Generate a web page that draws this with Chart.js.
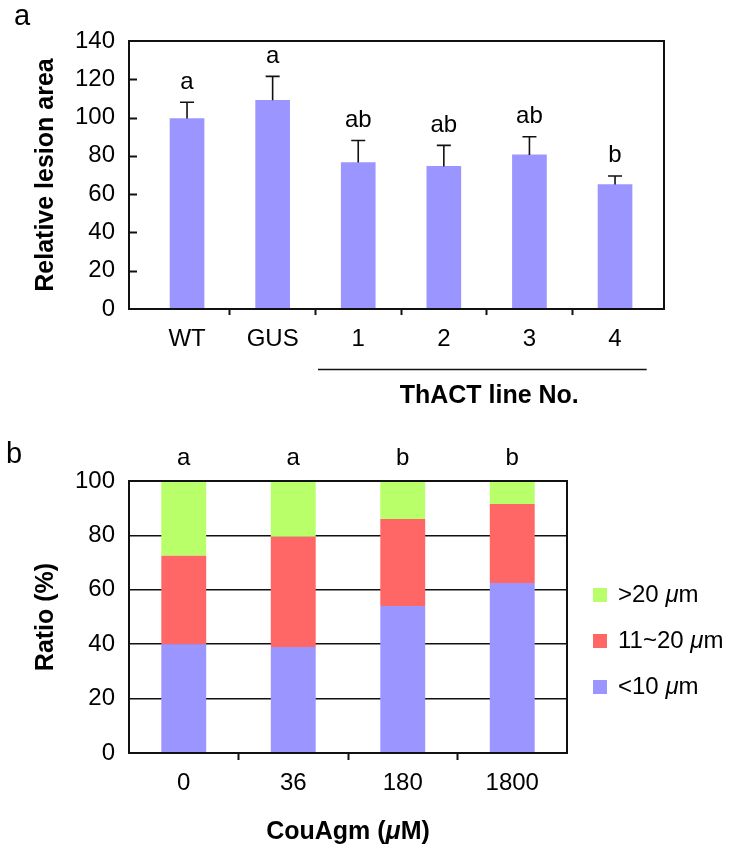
<!DOCTYPE html>
<html><head><meta charset="utf-8">
<script src="https://cdn.jsdelivr.net/npm/chart.js@4"></script>
<style>
html,body{margin:0;padding:0;background:#fff;}
#wrap{position:relative;width:736px;height:851px;overflow:hidden;background:#fff}
canvas{position:absolute;left:0}
#ca{top:0}
#cb{top:430px}
</style></head><body>
<div id="wrap"><canvas id="ca" width="736" height="430"></canvas><canvas id="cb" width="736" height="421"></canvas></div>
<script>
const FONT = '"Liberation Sans", Arial, Helvetica, sans-serif';
const INK = '#111';

// ---- Panel a data ----
const linesA = ['WT', 'GUS', '1', '2', '3', '4'];
const lesionArea = [99.5, 109, 76.5, 74.5, 80.5, 65];
const lesionErr = [8.5, 12.5, 11.5, 11, 9.5, 4.5];
const lettersA = ['a', 'a', 'ab', 'ab', 'ab', 'b'];
const groupLabelA = 'ThACT line No.';
const yTitleA = 'Relative lesion area';

// ---- Panel b data ----
const doses = ['0', '36', '180', '1800'];
const smallPct = [40, 39, 54, 62.5];
const midPct = [32.5, 40.5, 32, 29];
const largePct = [27.5, 20.5, 14, 8.5];
const lettersB = ['a', 'a', 'b', 'b'];
const seriesLabels = ['<10 μm', '11~20 μm', '>20 μm'];
const yTitleB = 'Ratio (%)';
const xTitleB = 'CouAgm (μM)';

const C_BLUE = '#9b95ff', C_RED = '#ff6666', C_GREEN = '#b8ff6a';

Chart.defaults.font.family = FONT;
Chart.defaults.color = '#000';

function drawMixed(ctx, text, x, y, size, bold, align) {
  // draws text where 'μ' is italic
  const parts = text.split(/(μ)/).filter(s => s.length);
  const w = bold ? 'bold ' : '';
  let total = 0;
  const widths = parts.map(p => {
    ctx.font = (p === 'μ' ? 'italic ' : '') + w + size + 'px ' + FONT;
    const m = ctx.measureText(p).width; total += m; return m;
  });
  let cx = align === 'center' ? x - total / 2 : x;
  ctx.textAlign = 'left';
  parts.forEach((p, i) => {
    ctx.font = (p === 'μ' ? 'italic ' : '') + w + size + 'px ' + FONT;
    ctx.fillText(p, cx, y);
    cx += widths[i];
  });
}

const xTicksA = [];
linesA.forEach((_, i) => { xTicksA.push({ value: i }); if (i < linesA.length - 1) xTicksA.push({ value: i + 0.5 }); });

const plugA = {
  id: 'plugA',
  afterDatasetsDraw(chart) {
    const { ctx, chartArea: a, scales: { x, y } } = chart;
    ctx.save();
    ctx.strokeStyle = INK; ctx.fillStyle = '#000';
    // error bars + letters
    ctx.lineWidth = 1.6;
    lesionArea.forEach((v, i) => {
      const px = x.getPixelForValue(i);
      const y0 = y.getPixelForValue(v);
      const y1 = y.getPixelForValue(v + lesionErr[i]);
      ctx.beginPath();
      ctx.moveTo(px, y0); ctx.lineTo(px, y1);
      ctx.moveTo(px - 7, y1); ctx.lineTo(px + 7, y1);
      ctx.stroke();
      ctx.font = '24px ' + FONT; ctx.textAlign = 'center'; ctx.textBaseline = 'alphabetic';
      ctx.fillText(lettersA[i], px, y1 - 13.5);
    });
    // frame
    ctx.lineWidth = 2;
    ctx.strokeRect(a.left, a.top, a.right - a.left, a.bottom - a.top);
    // inward y ticks
    y.ticks.forEach(t => {
      if (t.value <= 0 || t.value >= 140) return;
      const py = Math.round(y.getPixelForValue(t.value)) + 0.5;
      ctx.beginPath(); ctx.moveTo(a.left, py); ctx.lineTo(a.left + 8, py); ctx.stroke();
    });
    // group line and label
    const gx0 = x.getPixelForValue(1.53), gx1 = x.getPixelForValue(5.37);
    ctx.lineWidth = 1.5;
    ctx.beginPath(); ctx.moveTo(gx0, 369.5); ctx.lineTo(gx1, 369.5); ctx.stroke();
    ctx.font = 'bold 25px ' + FONT; ctx.textAlign = 'center'; ctx.textBaseline = 'alphabetic';
    ctx.fillText(groupLabelA, x.getPixelForValue(3.53), 403);
    // panel letter
    ctx.font = '29px ' + FONT; ctx.textAlign = 'left';
    ctx.fillText('a', 14, 25);
    ctx.restore();
  }
};

new Chart(document.getElementById('ca'), {
  type: 'bar',
  data: {
    datasets: [{
      data: lesionArea.map((v, i) => ({ x: i, y: v })),
      backgroundColor: C_BLUE, borderWidth: 0, barThickness: 34
    }]
  },
  options: {
    responsive: false, animation: false, devicePixelRatio: 1,
    layout: { padding: { left: 0, top: 41, right: 72, bottom: 71 } },
    plugins: { legend: { display: false }, tooltip: { enabled: false } },
    scales: {
      x: {
        type: 'linear', min: -0.678, max: 5.572, offset: false,
        afterBuildTicks: s => { s.ticks = xTicksA.map(t => ({ value: t.value })); },
        afterFit: s => { s.height = 50; },
        ticks: { autoSkip: false, maxRotation: 0, padding: 10, color: '#000', font: { size: 24 },
          callback: v => Number.isInteger(v) ? linesA[v] : '' },
        grid: { offset: false, drawOnChartArea: false, drawTicks: true, tickLength: 6, tickWidth: 2,
          tickColor: c => (c.tick && !Number.isInteger(c.tick.value)) ? INK : 'rgba(0,0,0,0)' },
        border: { display: true, color: INK, width: 2 }
      },
      y: {
        min: 0, max: 140,
        afterFit: s => { s.width = 129; },
        ticks: { stepSize: 20, padding: 14, color: '#000', font: { size: 24 } },
        grid: { drawOnChartArea: false, drawTicks: false },
        border: { display: true, color: INK, width: 2 },
        title: { display: true, text: yTitleA, color: '#000', font: { size: 25, weight: 'bold' }, padding: { top: 31, bottom: 0 } }
      }
    }
  },
  plugins: [plugA]
});

const plugB = {
  id: 'plugB',
  afterDatasetsDraw(chart) {
    const { ctx, chartArea: a, scales: { x, y } } = chart;
    ctx.save();
    ctx.strokeStyle = INK; ctx.fillStyle = '#000';
    ctx.lineWidth = 2;
    ctx.strokeRect(a.left, a.top, a.right - a.left, a.bottom - a.top);
    // letters
    ctx.font = '24px ' + FONT; ctx.textAlign = 'center'; ctx.textBaseline = 'alphabetic';
    lettersB.forEach((l, i) => ctx.fillText(l, x.getPixelForValue(i), y.getPixelForValue(100) - 16.5));
    // legend (top item = last dataset)
    const ds = chart.data.datasets;
    ctx.textBaseline = 'middle';
    for (let k = ds.length - 1, row = 0; k >= 0; k--, row++) {
      const cy = 165 + row * 46;
      ctx.fillStyle = ds[k].backgroundColor;
      ctx.fillRect(593, cy - 7, 14, 14);
      ctx.fillStyle = '#000';
      drawMixed(ctx, ds[k].label, 618, cy, 24, false, 'left');
    }
    // x title
    ctx.textBaseline = 'alphabetic';
    drawMixed(ctx, xTitleB, (a.left + a.right) / 2, 409, 25, true, 'center');
    // panel letter
    ctx.font = '29px ' + FONT; ctx.textAlign = 'left';
    ctx.fillText('b', 6, 33);
    ctx.restore();
  }
};

new Chart(document.getElementById('cb'), {
  type: 'bar',
  data: {
    labels: doses,
    datasets: [
      { label: seriesLabels[0], data: smallPct, backgroundColor: C_BLUE },
      { label: seriesLabels[1], data: midPct, backgroundColor: C_RED },
      { label: seriesLabels[2], data: largePct, backgroundColor: C_GREEN }
    ]
  },
  options: {
    responsive: false, animation: false, devicePixelRatio: 1,
    datasets: { bar: { borderWidth: 0, categoryPercentage: 1, barPercentage: 0.41 } },
    layout: { padding: { left: 0, top: 51, right: 169, bottom: 38 } },
    plugins: { legend: { display: false }, tooltip: { enabled: false } },
    scales: {
      x: {
        stacked: true, offset: true,
        afterFit: s => { s.height = 60; },
        ticks: { padding: 9, color: '#000', font: { size: 24 }, maxRotation: 0 },
        grid: { offset: true, drawOnChartArea: false, drawTicks: true, tickLength: 7, tickWidth: 2,
          tickColor: c => (c.index > 0 && c.index < doses.length) ? INK : 'rgba(0,0,0,0)' },
        border: { display: true, color: INK, width: 2 }
      },
      y: {
        stacked: true, min: 0, max: 100,
        afterFit: s => { s.width = 129; },
        ticks: { stepSize: 20, padding: 14, color: '#000', font: { size: 24 } },
        grid: { color: INK, lineWidth: 1.5, drawTicks: false },
        border: { display: true, color: INK, width: 2 },
        title: { display: true, text: yTitleB, color: '#000', font: { size: 25, weight: 'bold' }, padding: { top: 31, bottom: 0 } }
      }
    }
  },
  plugins: [plugB]
});
</script>
</body></html>
